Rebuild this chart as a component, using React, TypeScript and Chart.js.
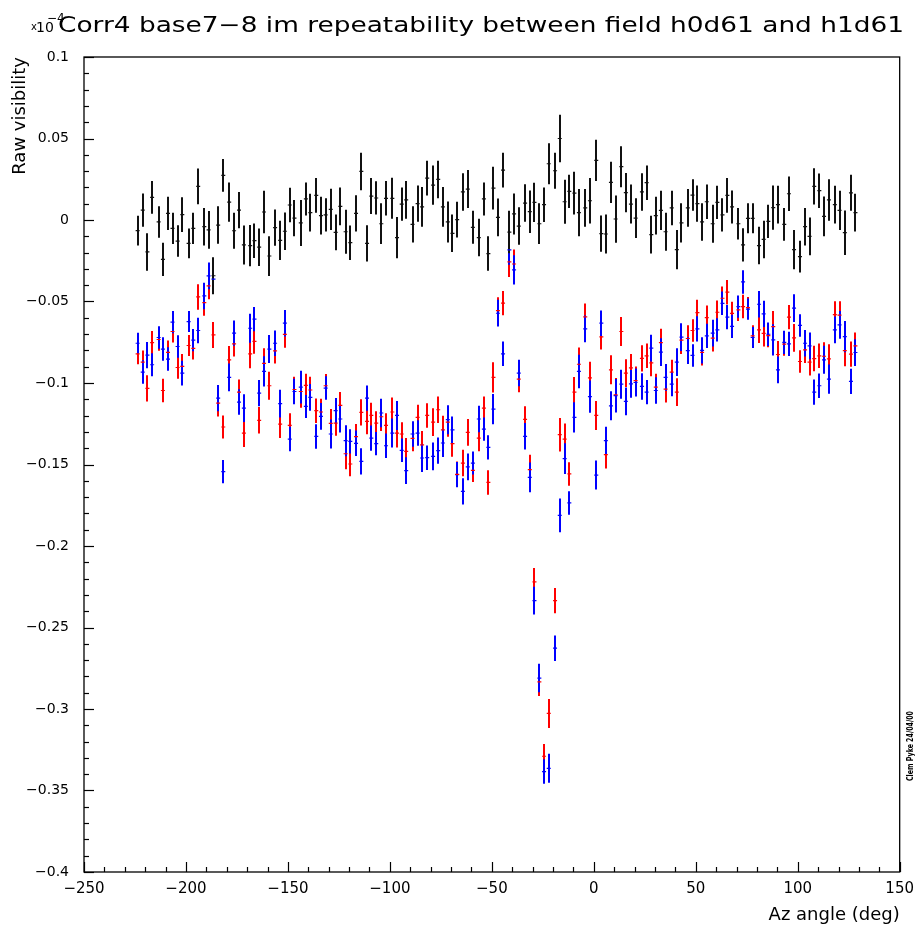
import React, { useEffect, useRef } from "react";
import { Chart, registerables } from "chart.js";

Chart.register(...registerables);

// ---------------- data ----------------
const TITLE = "Corr4 base7\u22128 im repeatability between field h0d61 and h1d61";
const X_TITLE = "Az angle (deg)";
const Y_TITLE = "Raw visibility";
const STAMP = "Clem Pyke 24/04/00";

// Az angle (deg) of each measurement
const azAngles = [
  -223.7, -221.2, -218.9, -216.6, -213.4, -211.3, -208.8, -206.6, -204.1, -201.8,
  -198.7, -196.4, -194.0, -191.0, -188.9, -186.5, -184.2, -181.7, -178.8, -176.4,
  -174.0, -171.6, -168.5, -166.4, -164.1, -161.7, -159.1, -156.3, -153.8, -151.5,
  -149.1, -146.8, -143.7, -141.2, -139.0, -136.1, -133.8, -131.5, -129.0, -126.6,
  -124.3, -121.7, -119.4, -116.6, -114.0, -111.2, -109.1, -106.7, -104.2, -101.9,
  -98.8, -96.5, -94.2, -92.0, -88.9, -86.4, -84.2, -81.7, -78.8, -76.3,
  -74.0, -71.6, -69.3, -67.0, -64.2, -61.8, -59.3, -56.4, -53.9, -51.7,
  -49.2, -47.0, -44.5, -41.4, -39.1, -36.8, -33.7, -31.4, -29.1, -26.7,
  -24.4, -22.1, -19.0, -16.7, -14.3, -12.0, -9.5, -7.3, -4.2, -1.9,
  1.2, 3.7, 5.9, 8.4, 10.7, 13.5, 15.7, 18.2, 20.5, 23.6,
  25.9, 28.2, 30.4, 32.9, 35.2, 38.2, 40.7, 43.0, 46.1, 48.4,
  50.8, 53.1, 55.4, 58.3, 60.6, 63.1, 65.5, 67.8, 70.9, 73.2,
  75.6, 77.9, 81.0, 83.3, 85.6, 88.0, 90.3, 93.4, 95.7, 98.2,
  101.1, 103.6, 105.8, 108.1, 110.6, 112.9, 115.3, 118.2, 120.5, 123.1,
  126.1, 128.3,
];

// field h0d61 (red)
const field0Values = [
  -0.0821, -0.0872, -0.1033, -0.0752, -0.0733, -0.1046, -0.0812, -0.0684, -0.0905, -0.0898,
  -0.0770, -0.0788, -0.0472, -0.0507, -0.0404, -0.0705, -0.1124, -0.1270, -0.0858, -0.0760,
  -0.1056, -0.1307, -0.0821, -0.0745, -0.1229, -0.0880, -0.1017, -0.0803, -0.1252, -0.0702,
  -0.1260, -0.1040, -0.1052, -0.1015, -0.1043, -0.1170, -0.1178, -0.1017, -0.1248, -0.1246,
  -0.1137, -0.1434, -0.1497, -0.1329, -0.1180, -0.1236, -0.1199, -0.1246, -0.1207, -0.1260,
  -0.1178, -0.1307, -0.1313, -0.1420, -0.1340, -0.1211, -0.1380, -0.1199, -0.1240, -0.1164,
  -0.1287, -0.1240, -0.1372, -0.1560, -0.1491, -0.1303, -0.1536, -0.1338, -0.1154, -0.1610,
  -0.0966, -0.0556, -0.0510, -0.0257, -0.0270, -0.0976, -0.1223, -0.1532, -0.2220, -0.2833,
  -0.3290, -0.3027, -0.2335, -0.1317, -0.1344, -0.1558, -0.1056, -0.0885, -0.0594, -0.0968,
  -0.1199, -0.0717, -0.1440, -0.0919, -0.1072, -0.0684, -0.0940, -0.0907, -0.0985, -0.0849,
  -0.0833, -0.0876, -0.1025, -0.0752, -0.1038, -0.0933, -0.1056, -0.0737, -0.0727, -0.0678,
  -0.0568, -0.0812, -0.0599, -0.0725, -0.0566, -0.0480, -0.0443, -0.0573, -0.0551, -0.0531,
  -0.0537, -0.0711, -0.0674, -0.0695, -0.0709, -0.0654, -0.0825, -0.0762, -0.0596, -0.0723,
  -0.0868, -0.0797, -0.0872, -0.0850, -0.0833, -0.0836, -0.0852, -0.0580, -0.0584, -0.0801,
  -0.0823, -0.0772,
];

// field h1d61 (blue)
const field1Values = [
  -0.0756, -0.0933, -0.0829, -0.0888, -0.0721, -0.0792, -0.0853, -0.0627, -0.0776, -0.0939,
  -0.0623, -0.0737, -0.0678, -0.0466, -0.0343, -0.0363, -0.1093, -0.1544, -0.0966, -0.0694,
  -0.1117, -0.1154, -0.0664, -0.0608, -0.1062, -0.0929, -0.0792, -0.0756, -0.1127, -0.0633,
  -0.1344, -0.1052, -0.1025, -0.1144, -0.1088, -0.1328, -0.1205, -0.1031, -0.1313, -0.1170,
  -0.1221, -0.1354, -0.1358, -0.1370, -0.1481, -0.1093, -0.1338, -0.1372, -0.1184, -0.1385,
  -0.1307, -0.1199, -0.1413, -0.1538, -0.1313, -0.1307, -0.1460, -0.1458, -0.1450, -0.1415,
  -0.1368, -0.1225, -0.1287, -0.1562, -0.1665, -0.1515, -0.1491, -0.1221, -0.1283, -0.1395,
  -0.1160, -0.0572, -0.0821, -0.0183, -0.0306, -0.0939, -0.1327, -0.1579, -0.2335, -0.2810,
  -0.3384, -0.3364, -0.2627, -0.1812, -0.1464, -0.1736, -0.1211, -0.0929, -0.0668, -0.1083,
  -0.1565, -0.0633, -0.1354, -0.1140, -0.1078, -0.1007, -0.1113, -0.1005, -0.0997, -0.1021,
  -0.1056, -0.0786, -0.1046, -0.0811, -0.0966, -0.1007, -0.0872, -0.0719, -0.0801, -0.0831,
  -0.0668, -0.0800, -0.0711, -0.0694, -0.0674, -0.0511, -0.0596, -0.0653, -0.0531, -0.0380,
  -0.0547, -0.0721, -0.0517, -0.0576, -0.0701, -0.0735, -0.0919, -0.0751, -0.0760, -0.0541,
  -0.0647, -0.0756, -0.0772, -0.1056, -0.1017, -0.0858, -0.0976, -0.0674, -0.0643, -0.0715,
  -0.0990, -0.0813,
];

// half-length of the red / blue error bars
const fieldErrors = [
  0.0064, 0.0072, 0.0081, 0.0071, 0.0069, 0.0072, 0.0072, 0.0068, 0.0069, 0.0076,
  0.0064, 0.0068, 0.0078, 0.0081, 0.0082, 0.008, 0.0081, 0.0071, 0.0085, 0.0078,
  0.0078, 0.0085, 0.0089, 0.0075, 0.0081, 0.0093, 0.0086, 0.0078, 0.0085, 0.0081,
  0.0075, 0.0078, 0.01, 0.0071, 0.0082, 0.0075, 0.0082, 0.0072, 0.0089, 0.0078,
  0.0082, 0.0095, 0.0075, 0.0078, 0.0081, 0.0078, 0.0078, 0.0072, 0.0088, 0.0075,
  0.0089, 0.0089, 0.0072, 0.0082, 0.0078, 0.0078, 0.0086, 0.0075, 0.0085, 0.0081,
  0.0086, 0.0089, 0.0081, 0.0078, 0.0081, 0.0082, 0.0071, 0.0081, 0.0071, 0.0075,
  0.0093, 0.0082, 0.0075, 0.0092, 0.0089, 0.0081, 0.0081, 0.0092, 0.0085, 0.0088,
  0.0075, 0.0089, 0.0078, 0.0103, 0.0095, 0.0072, 0.0093, 0.0103, 0.0082, 0.0099,
  0.0089, 0.0078, 0.0085, 0.0089, 0.0103, 0.0089, 0.0085, 0.0085, 0.0086, 0.0081,
  0.0075, 0.0082, 0.0082, 0.0085, 0.0082, 0.0075, 0.0085, 0.0085, 0.0082, 0.0069,
  0.0078, 0.0081, 0.0075, 0.0082, 0.0072, 0.0072, 0.0075, 0.0071, 0.0068, 0.0072,
  0.0065, 0.0065, 0.0081, 0.0081, 0.0072, 0.0096, 0.0082, 0.0071, 0.0075, 0.0085,
  0.0069, 0.0081, 0.0082, 0.0078, 0.0075, 0.0086, 0.009, 0.0082, 0.0085, 0.0096,
  0.0078, 0.0082,
];

// difference between the two fields (black)
const diffValues = [
  -0.0065, 0.0061, -0.0196, 0.0139, -0.0012, -0.0241, 0.0041, -0.0051, -0.0129, 0.0033,
  -0.0143, -0.0051, 0.0206, -0.0041, -0.0061, -0.0342, -0.0031, 0.0274, 0.011, -0.0066,
  0.0061, -0.0153, -0.0157, -0.0127, -0.0167, 0.0049, -0.0221, -0.0047, -0.0125, -0.0069,
  0.0092, 0.0012, -0.0018, 0.0129, 0.0045, 0.0151, 0.0027, 0.0031, 0.0065, -0.0076,
  0.0084, -0.0072, -0.0139, 0.0041, 0.0298, -0.0143, 0.0147, 0.0135, -0.0023, 0.0133,
  0.0133, -0.0108, 0.0098, 0.0123, -0.0027, 0.01, 0.008, 0.0257, 0.0214, 0.0249,
  0.008, -0.0012, -0.0082, 0.0002, 0.0172, 0.019, -0.0045, -0.0108, 0.0129, -0.0206,
  0.0196, 0.0016, 0.0306, -0.0074, 0.0037, -0.0037, 0.0104, 0.0051, 0.0108, -0.0023,
  0.0094, 0.0345, 0.0302, 0.05, 0.0112, 0.0176, 0.0165, 0.0045, 0.0074, 0.0118,
  0.0366, -0.0084, -0.0086, 0.0231, 0.0006, 0.0327, 0.0168, 0.0098, 0.0012, 0.0172,
  0.0229, -0.009, 0.0027, 0.0059, -0.0072, 0.0074, -0.0182, -0.0018, 0.0074, 0.0153,
  0.01, -0.0012, 0.0112, -0.0023, 0.0108, 0.0031, 0.0151, 0.008, -0.0023, -0.0153,
  0.001, 0.001, -0.0157, -0.0119, -0.0008, 0.0076, 0.0094, -0.0027, 0.0161, -0.0182,
  -0.0225, -0.0041, -0.01, 0.0206, 0.018, 0.0022, 0.0123, 0.0094, 0.0059, -0.0078,
  0.0167, 0.0045,
];

const diffErrors = [
  0.0091, 0.0102, 0.0115, 0.0101, 0.0097, 0.0102, 0.0102, 0.0096, 0.0097, 0.0107,
  0.0091, 0.0096, 0.011, 0.0115, 0.0116, 0.0113, 0.0115, 0.0101, 0.012, 0.0111,
  0.0111, 0.012, 0.0126, 0.0106, 0.0115, 0.0131, 0.0122, 0.0111, 0.012, 0.0115,
  0.0106, 0.0111, 0.0141, 0.0101, 0.0116, 0.0106, 0.0116, 0.0102, 0.0126, 0.011,
  0.0116, 0.0135, 0.0106, 0.0111, 0.0115, 0.0111, 0.011, 0.0102, 0.0125, 0.0106,
  0.0126, 0.0126, 0.0102, 0.0116, 0.0111, 0.0111, 0.0122, 0.0106, 0.012, 0.0115,
  0.0122, 0.0126, 0.0115, 0.011, 0.0115, 0.0116, 0.0101, 0.0115, 0.0101, 0.0106,
  0.0131, 0.0116, 0.0106, 0.013, 0.0126, 0.0115, 0.0115, 0.013, 0.012, 0.0125,
  0.0106, 0.0126, 0.0111, 0.0145, 0.0135, 0.0102, 0.0131, 0.0145, 0.0116, 0.014,
  0.0126, 0.0111, 0.012, 0.0126, 0.0145, 0.0126, 0.012, 0.012, 0.0122, 0.0115,
  0.0106, 0.0116, 0.0116, 0.012, 0.0116, 0.0106, 0.012, 0.012, 0.0116, 0.0097,
  0.0111, 0.0115, 0.0106, 0.0116, 0.0102, 0.0102, 0.0106, 0.0101, 0.0096, 0.0102,
  0.0092, 0.0092, 0.0115, 0.0115, 0.0102, 0.0136, 0.0116, 0.0101, 0.0106, 0.012,
  0.0097, 0.0115, 0.0116, 0.0111, 0.0106, 0.0122, 0.0127, 0.0116, 0.012, 0.0136,
  0.0111, 0.0116,
];

const X_MIN = -250;
const X_MAX = 150;
const Y_MIN = -0.4;
const Y_MAX = 0.1;

// ---------------- styling ----------------
const W = 922;
const H = 935;
const FONT = "'DejaVu Sans', 'Liberation Sans', Arial, sans-serif";
const RED = "#ff0000";
const BLUE = "#0000ff";
const BLACK = "#111111";

const fmtMinus = (s: string) => s.replace("-", "\u2212");

const errorBarPlugin = {
  id: "errorBars",
  beforeDatasetsDraw(chart: any) {
    const { ctx, chartArea, scales } = chart;
    const xs = scales.x;
    const ys = scales.y;
    ctx.save();
    ctx.beginPath();
    ctx.rect(chartArea.left, chartArea.top, chartArea.right - chartArea.left, chartArea.bottom - chartArea.top);
    ctx.clip();
    ctx.lineWidth = 2;
    ctx.lineCap = "butt";
    // red first, blue over it, black on top
    chart.data.datasets.forEach((ds: any) => {
      ctx.strokeStyle = ds.borderColor;
      ds.data.forEach((p: any) => {
        const px = Math.round(xs.getPixelForValue(p.x));
        const y1 = ys.getPixelForValue(p.y + p.err);
        const y2 = ys.getPixelForValue(p.y - p.err);
        ctx.beginPath();
        ctx.moveTo(px, y1);
        ctx.lineTo(px, y2);
        ctx.stroke();
      });
    });
    ctx.restore();
  },
};

const framePlugin = {
  id: "frameTicks",
  afterDraw(chart: any) {
    const { ctx, chartArea, scales } = chart;
    const { left, right, top, bottom } = chartArea;
    const xs = scales.x;
    const ys = scales.y;
    ctx.save();
    ctx.strokeStyle = "#000";
    ctx.lineWidth = 1.3;
    ctx.strokeRect(left, top, right - left, bottom - top);
    ctx.lineWidth = 1.2;
    // x ticks (major every 50, minor every 10), pointing inwards
    for (let v = X_MIN; v <= X_MAX; v += 10) {
      const px = Math.round(xs.getPixelForValue(v)) + 0.5;
      const len = v % 50 === 0 ? 10 : 5;
      ctx.beginPath();
      ctx.moveTo(px, bottom);
      ctx.lineTo(px, bottom - len);
      ctx.stroke();
    }
    // y ticks (major every 0.05, minor every 0.01)
    for (let k = -40; k <= 10; k++) {
      const py = Math.round(ys.getPixelForValue(k / 100)) + 0.5;
      const len = k % 5 === 0 ? 10 : 5;
      ctx.beginPath();
      ctx.moveTo(left, py);
      ctx.lineTo(left + len, py);
      ctx.stroke();
    }
    ctx.restore();
  },
};

const textPlugin = {
  id: "textDecor",
  afterDraw(chart: any) {
    const ctx = chart.ctx;
    ctx.save();
    ctx.fillStyle = "#000";
    ctx.textBaseline = "alphabetic";
    ctx.textAlign = "left";
    // main title
    ctx.font = `21px ${FONT}`;
    const w = ctx.measureText(TITLE).width;
    ctx.save();
    ctx.translate(58, 32);
    ctx.scale(846 / w, 1);
    ctx.fillText(TITLE, 0, 0);
    ctx.restore();
    // x10^-4 exponent marker
    ctx.font = `10px ${FONT}`;
    ctx.fillText("x", 31, 30);
    ctx.font = `14px ${FONT}`;
    ctx.fillText("10", 36, 32);
    ctx.font = `12px ${FONT}`;
    ctx.fillText("\u22124", 47, 22);
    // date stamp (vertical)
    ctx.save();
    ctx.font = `bold 9px ${FONT}`;
    const sw = ctx.measureText(STAMP).width;
    ctx.translate(913, 781);
    ctx.rotate(-Math.PI / 2);
    ctx.scale(70 / sw, 1);
    ctx.fillText(STAMP, 0, 0);
    ctx.restore();
    ctx.restore();
  },
};

export default function App() {
  const canvasRef = useRef<HTMLCanvasElement | null>(null);

  useEffect(() => {
    if (!canvasRef.current) return;
    const mk = (vals: number[], errs: number[]) =>
      azAngles.map((x, i) => ({ x, y: vals[i], err: errs[i] }));
    const common = {
      pointStyle: "line",
      pointRadius: 2,
      pointHoverRadius: 2,
      pointBorderWidth: 1.2,
      showLine: false,
    };
    const chart = new Chart(canvasRef.current, {
      type: "scatter",
      data: {
        datasets: [
          { label: "h0d61", data: mk(field0Values, fieldErrors), borderColor: RED, backgroundColor: RED, ...common },
          { label: "h1d61", data: mk(field1Values, fieldErrors), borderColor: BLUE, backgroundColor: BLUE, ...common },
          { label: "h0d61 - h1d61", data: mk(diffValues, diffErrors), borderColor: BLACK, backgroundColor: BLACK, ...common },
        ],
      } as any,
      options: {
        responsive: true,
        maintainAspectRatio: false,
        animation: false,
        devicePixelRatio: 1,
        layout: { padding: { top: 57, right: 20, left: 0, bottom: 0 } },
        plugins: {
          legend: { display: false },
          tooltip: { enabled: false },
          title: { display: false },
        },
        events: [],
        scales: {
          x: {
            type: "linear",
            min: X_MIN,
            max: X_MAX,
            grid: { display: false, drawTicks: false },
            border: { display: false },
            ticks: {
              stepSize: 50,
              color: "#000",
              font: { family: FONT, size: 15 },
              padding: 8,
              maxRotation: 0,
              callback: (v: any) => fmtMinus(String(Math.round(Number(v)))),
            },
            title: {
              display: true,
              text: X_TITLE,
              align: "end",
              color: "#000",
              font: { family: FONT, size: 18 },
              padding: { top: 0, bottom: 9 },
            },
            afterFit: (s: any) => {
              s.height = 63;
            },
          },
          y: {
            type: "linear",
            min: Y_MIN,
            max: Y_MAX,
            grid: { display: false, drawTicks: false },
            border: { display: false },
            ticks: {
              stepSize: 0.05,
              color: "#000",
              font: { family: FONT, size: 14 },
              padding: 15,
              callback: (v: any) => {
                const r = Math.round(Number(v) * 100) / 100;
                return r === 0 ? "0" : fmtMinus(String(r));
              },
            },
            title: {
              display: true,
              text: Y_TITLE,
              align: "end",
              color: "#000",
              font: { family: FONT, size: 18 },
              padding: { top: 10, bottom: 0 },
            },
            afterFit: (s: any) => {
              s.width = 84;
            },
          },
        },
      } as any,
      plugins: [errorBarPlugin, framePlugin, textPlugin],
    });
    return () => chart.destroy();
  }, []);

  return (
    <div style={{ position: "fixed", left: 0, top: 0, width: W, height: H, background: "#fff" }}>
      <canvas ref={canvasRef} />
    </div>
  );
}
